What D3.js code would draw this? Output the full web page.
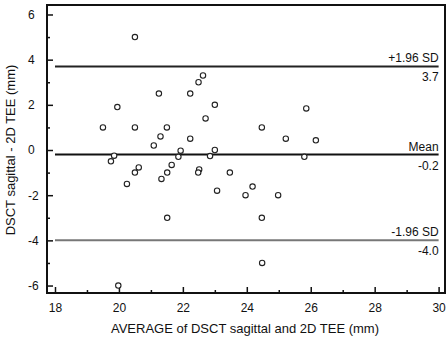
<!DOCTYPE html>
<html>
<head>
<meta charset="utf-8">
<script src="https://cdn.jsdelivr.net/npm/d3@7"></script>
<style>
  body { margin: 0; background: #fff; }
  text { font-family: "Liberation Sans", Arial, sans-serif; fill: #111; }
</style>
</head>
<body>
<svg id="chart" width="448" height="337"></svg>
<script>
// average of the two methods (mm)
const avgValues = [
  20.5, 19.95, 19.5, 20.5, 19.85, 19.75, 20.62, 20.5, 20.25,
  22.63, 22.49, 21.25, 22.23, 23.0, 22.71, 21.5, 21.3, 22.23, 21.09,
  21.93, 21.86, 23.0, 22.85, 21.65, 21.51, 21.33, 22.51, 22.48, 23.47,
  23.07, 21.51, 25.86, 24.47, 25.22, 26.16, 25.8, 24.18, 23.96, 24.98,
  24.47, 24.48, 19.98
];
// difference DSCT - 2D TEE (mm)
const diffValues = [
  5.0, 1.9, 1.0, 1.0, -0.25, -0.5, -0.77, -1.0, -1.5,
  3.3, 3.0, 2.5, 2.5, 2.0, 1.4, 1.0, 0.6, 0.5, 0.2,
  -0.03, -0.3, 0.0, -0.27, -0.66, -1.0, -1.28, -0.86, -1.0, -1.0,
  -1.8, -3.0, 1.84, 1.0, 0.5, 0.43, -0.3, -1.62, -2.0, -2.0,
  -3.0, -5.0, -6.0
];
const refValues = [3.7, -0.2, -4.0];
const refNames = ['+1.96 SD', 'Mean', '-1.96 SD'];
const refLabels = ['3.7', '-0.2', '-4.0'];
const xTicks = [18, 20, 22, 24, 26, 28, 30];
const xMinor = [19, 21, 23, 25, 27, 29];
const yTicks = [-6, -4, -2, 0, 2, 4, 6];
const yMinor = [-5, -3, -1, 1, 3, 5];

main();

function main () {
  const svg = d3.select('#chart');
  const M = { top: 5, right: 3, bottom: 44, left: 47 };
  const W = 448 - M.left - M.right;
  const H = 337 - M.top - M.bottom;

  const x = d3.scaleLinear().domain([17.75, 30.2]).range([0, W]);
  const y = d3.scaleLinear().domain([-6.33, 6.42]).range([H, 0]);

  const g = svg.append('g').attr('transform', `translate(${M.left},${M.top})`);

  drawAxes(g, x, y, W, H);
  drawRefLines(g, x, y);
  drawPoints(g, x, y);
  drawTitles(svg);
}

function drawAxes (g, x, y, W, H) {
  // minor ticks (no labels)
  g.append('g')
    .attr('transform', `translate(0,${H})`)
    .call(d3.axisBottom(x).tickValues(xMinor).tickSize(-3).tickFormat(''));
  g.append('g')
    .call(d3.axisLeft(y).tickValues(yMinor).tickSize(-3).tickFormat(''));

  const xa = g.append('g')
    .attr('transform', `translate(0,${H})`)
    .call(d3.axisBottom(x).tickValues(xTicks).tickSize(-6).tickPadding(10.5));
  xa.selectAll('text').attr('font-size', '12px');

  const ya = g.append('g')
    .call(d3.axisLeft(y).tickValues(yTicks).tickSize(-6).tickFormat(d => d));
  ya.selectAll('text')
    .attr('font-size', '12px')
    .attr('text-anchor', 'start')
    .attr('x', -19);

  g.selectAll('.domain').remove();
  g.selectAll('.tick line').attr('stroke', '#111').attr('stroke-width', 1.5);

  // frame
  g.append('rect')
    .attr('x', 0).attr('y', 0)
    .attr('width', W).attr('height', H)
    .attr('fill', 'none')
    .attr('stroke', '#111')
    .attr('stroke-width', 2);
}

function drawRefLines (g, x, y) {
  const colors = ['#222', '#111', '#777'];
  refValues.forEach((v, i) => {
    const yy = y(v);
    g.append('line')
      .attr('x1', x(18)).attr('x2', x(30))
      .attr('y1', yy).attr('y2', yy)
      .attr('stroke', colors[i])
      .attr('stroke-width', 2);
    g.append('text').text(refNames[i])
      .attr('x', x(30)).attr('y', yy - 4)
      .attr('text-anchor', 'end')
      .attr('font-size', '12px');
    g.append('text').text(refLabels[i])
      .attr('x', x(30)).attr('y', yy + 15)
      .attr('text-anchor', 'end')
      .attr('font-size', '12px');
  });
}

function drawPoints (g, x, y) {
  avgValues.forEach((a, i) => {
    g.append('circle')
      .attr('cx', x(a))
      .attr('cy', y(diffValues[i]))
      .attr('r', 2.7)
      .attr('fill', '#fff')
      .attr('stroke', '#222')
      .attr('stroke-width', 1.1);
  });
}

function drawTitles (svg) {
  svg.append('text')
    .text('AVERAGE of DSCT sagittal and 2D TEE (mm)')
    .attr('x', 245).attr('y', 333)
    .attr('text-anchor', 'middle')
    .attr('font-size', '13px');

  svg.append('text')
    .text('DSCT sagittal - 2D TEE (mm)')
    .attr('transform', 'translate(15,150) rotate(-90)')
    .attr('text-anchor', 'middle')
    .attr('font-size', '13px');
}
</script>
</body>
</html>
